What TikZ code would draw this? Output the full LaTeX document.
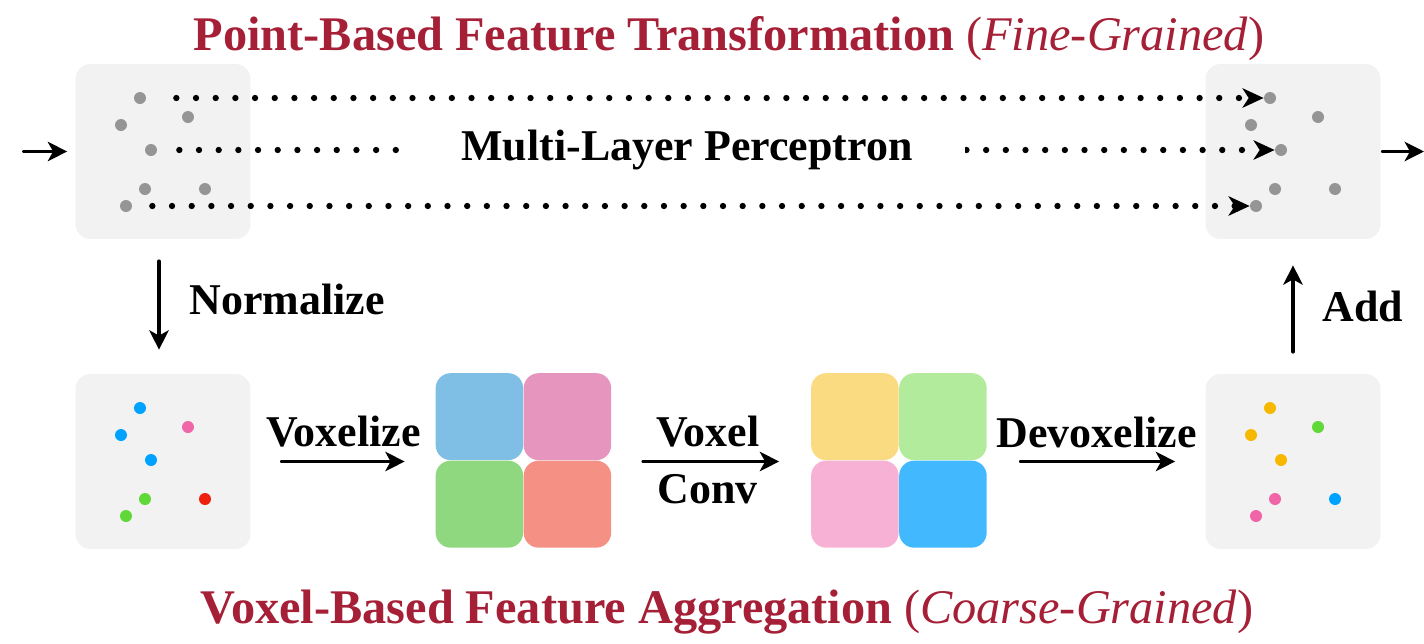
\documentclass[tikz,border=0pt]{standalone}
\usepackage{fontspec}
\setmainfont{Liberation Serif}
\usepackage{tikz}
\usetikzlibrary{arrows.meta}
\definecolor{titlered}{RGB}{165,31,54}
\definecolor{boxgray}{RGB}{242,242,242}
\definecolor{ptgray}{RGB}{149,149,149}
\definecolor{ptblue}{RGB}{0,162,255}
\definecolor{ptpink}{RGB}{240,100,168}
\definecolor{ptgreen}{RGB}{96,216,56}
\definecolor{ptred}{RGB}{238,32,16}
\definecolor{ptyellow}{RGB}{246,184,0}
\definecolor{vblue}{RGB}{127,191,230}
\definecolor{vpink}{RGB}{229,149,190}
\definecolor{vgreen}{RGB}{143,216,128}
\definecolor{vsalmon}{RGB}{245,144,133}
\definecolor{vyellow}{RGB}{250,219,130}
\definecolor{vlgreen}{RGB}{178,235,155}
\definecolor{vlpink}{RGB}{247,177,213}
\definecolor{vsky}{RGB}{66,185,255}

\begin{document}
\begin{tikzpicture}
      [line cap=round,line join=round,x=0.02cm,y=-0.02cm,
       ptbox/.style={fill=boxgray,rounded corners=0.3cm,minimum size=3.5cm,inner sep=0pt},
       gridbox/.style={minimum size=3.52cm,inner sep=0pt},
       pt/.style={circle,fill=#1,inner sep=0pt,minimum size=0.24cm},
       bigarrow/.style={-{Stealth[length=11pt,width=11pt,inset=3pt]},line width=2.2pt},
       mlpdots/.style={line width=3.6pt,dash pattern=on 0pt off 11.2pt,-{Stealth[length=12pt,width=11pt,inset=3.5pt]}},
       lbl/.style={font=\fontsize{25}{28}\selectfont\bfseries},
       ttl/.style={font=\fontsize{27.5}{32}\selectfont\bfseries,text=titlered}]

  \useasboundingbox (0,0) rectangle (1424,643);

%titles
  \node[ttl] (top_title) at (729,39) {Point-Based Feature Transformation \textmd{(\textit{Fine-Grained})}};
  \node[ttl] (bot_title) at (727,612) {Voxel-Based Feature Aggregation \textmd{(\textit{Coarse-Grained})}};

%point boxes
  \node[ptbox] (in_box) at (163,151.5) {};
  \node[ptbox] (out_box) at (1293,151.5) {};
  \node[ptbox] (norm_box) at (163,461.5) {};
  \node[ptbox] (devox_box) at (1293,461.5) {};

%the points, same layout in every box
  \foreach \n/\dx/\dy/\cl/\cr in {1/-23/-53.5/ptblue/ptyellow,2/25/-34.5/ptpink/ptgreen,
        3/-42/-26.5/ptblue/ptyellow,4/-12/-1.5/ptblue/ptyellow,5/-18/37.5/ptgreen/ptpink,
        6/42/37.5/ptred/ptblue,7/-37/54.5/ptgreen/ptpink}
  {
   \node[pt=ptgray] (a\n) at ([shift={(\dx,\dy)}]in_box.center) {};
   \node[pt=ptgray] (b\n) at ([shift={(\dx,\dy)}]out_box.center) {};
   \node[pt=\cl] (c\n) at ([shift={(\dx,\dy)}]norm_box.center) {};
   \node[pt=\cr] (d\n) at ([shift={(\dx,\dy)}]devox_box.center) {};
  }

%voxel grids
  \node[gridbox] (grid1) at (524,461.5) {};
  \node[gridbox] (grid2) at (899.5,461.5) {};
  \foreach \i/\j/\ca/\cb in {0/0/vblue/vyellow,1/0/vpink/vlgreen,0/1/vgreen/vlpink,1/1/vsalmon/vsky}
  {
   \fill[\ca,rounded corners=0.3cm] ([shift={(88*\i,87.5*\j)}]grid1.north west) rectangle ++(87.5,87);
   \fill[\cb,rounded corners=0.3cm] ([shift={(88*\i,87.5*\j)}]grid2.north west) rectangle ++(87.5,87);
  }

%mlp rows
  \draw[mlpdots,shorten <=0.6cm] (a1) -- (b1);
  \draw[mlpdots,shorten <=0.44cm] (a4) -- node[lbl,pos=0.474,fill=white,inner xsep=1.06cm] (mlp) {Multi-Layer Perceptron} (b4);
  \draw[mlpdots,shorten <=0.4cm] (a7) -- (b7);

%in and out
  \coordinate (in_start) at (24,151.5);
  \coordinate (out_end) at (1424,151.5);
  \draw[bigarrow,shorten >=0.16cm] (in_start) -- (in_box.west);
  \draw[bigarrow,shorten <=0.04cm] (out_box.east) -- (out_end);

%voxel branch
  \draw[bigarrow,shorten <=0.44cm,shorten >=0.48cm] ([xshift=-0.08cm]in_box.south) -- ([xshift=-0.08cm]norm_box.north)
     node[lbl,midway,right=0.46cm,yshift=0.14cm] (norm_lbl) {Normalize};
  \draw[bigarrow,shorten <=0.62cm,shorten >=0.62cm] (norm_box.east) -- (grid1.west)
     node[lbl,midway,above=0.14cm] (vox_lbl) {Voxelize};
  \draw[bigarrow,shorten <=0.62cm,shorten >=0.64cm] (grid1.east) -- (grid2.west)
     node[lbl,midway,above=0.14cm,xshift=-0.08cm] (conv_lbl) {Voxel}
     node[lbl,midway,below=0.1cm,xshift=-0.08cm] (conv_lbl2) {Conv};
  \draw[bigarrow,shorten <=0.66cm,shorten >=0.6cm] (grid2.east) -- (devox_box.west)
     node[lbl,midway,above=0.12cm] (devox_lbl) {Devoxelize};
  \draw[bigarrow,shorten <=0.44cm,shorten >=0.52cm] (devox_box.north) -- (out_box.south)
     node[lbl,midway,right=0.44cm] (add_lbl) {Add};

\end{tikzpicture}
\end{document}
